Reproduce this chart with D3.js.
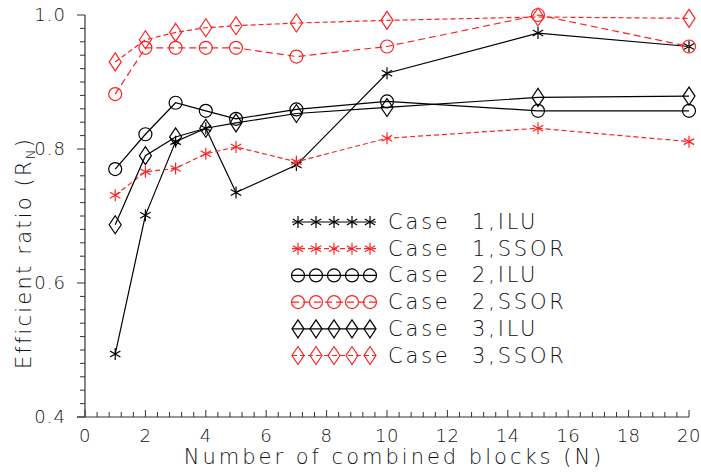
<!DOCTYPE html>
<html>
<head>
<meta charset="utf-8">
<script src="https://cdn.jsdelivr.net/npm/d3@7"></script>
<style>
  body { margin: 0; background: #fff; }
  text { font-family: "DejaVu Sans Light", "DejaVu Sans", sans-serif; font-weight: 200; fill: #111; }
</style>
</head>
<body>
<div id="chart"></div>
<script>
// number of combined blocks
var blocks = [1, 2, 3, 4, 5, 7, 10, 15, 20];

var case1ILU  = [0.494, 0.701, 0.811, 0.831, 0.735, 0.776, 0.913, 0.973, 0.953];
var case1SSOR = [0.731, 0.766, 0.771, 0.793, 0.803, 0.781, 0.816, 0.831, 0.811];
var case2ILU  = [0.770, 0.822, 0.869, 0.857, 0.845, 0.859, 0.871, 0.857, 0.857];
var case2SSOR = [0.882, 0.951, 0.951, 0.951, 0.951, 0.938, 0.953, 1.000, 0.953];
var case3ILU  = [0.687, 0.790, 0.818, 0.831, 0.839, 0.853, 0.862, 0.877, 0.879];
var case3SSOR = [0.930, 0.963, 0.974, 0.981, 0.984, 0.988, 0.992, 0.997, 0.995];

var seriesNames = ["Case  1,ILU", "Case  1,SSOR", "Case  2,ILU", "Case  2,SSOR", "Case  3,ILU", "Case  3,SSOR"];
var xTicks = [0, 2, 4, 6, 8, 10, 12, 14, 16, 18, 20];
var yTicks = [0.4, 0.6, 0.8, 1.0];

var series = [
  {name: seriesNames[0], values: case1ILU,  color: "#000", dash: null,  sym: "star"},
  {name: seriesNames[1], values: case1SSOR, color: "#f22", dash: "5,3", sym: "star"},
  {name: seriesNames[2], values: case2ILU,  color: "#000", dash: null,  sym: "circle"},
  {name: seriesNames[3], values: case2SSOR, color: "#f22", dash: "7,4", sym: "circle"},
  {name: seriesNames[4], values: case3ILU,  color: "#000", dash: null,  sym: "diamond"},
  {name: seriesNames[5], values: case3SSOR, color: "#f22", dash: "5,3", sym: "diamond"}
];

var width = 701, height = 474;
var svg = d3.select("#chart").append("svg")
    .attr("width", width)
    .attr("height", height);

var x = d3.scaleLinear().domain([0, 20]).range([85, 689]);
var y = d3.scaleLinear().domain([0.4, 1.0]).range([417, 15]);

// y axis
var yAxis = svg.append("g");
yAxis.append("line")
    .attr("x1", x(0)).attr("x2", x(0))
    .attr("y1", y(0.4)).attr("y2", y(1.0))
    .attr("stroke", "#333").attr("stroke-width", 1.2);
d3.range(0.4, 1.0001, 0.02).forEach(function(v, i) {
    var major = i % 10 == 0;
    yAxis.append("line")
        .attr("x1", x(0) - (major ? 8 : 5)).attr("x2", x(0))
        .attr("y1", y(v)).attr("y2", y(v))
        .attr("stroke", "#333").attr("stroke-width", 1);
});
yTicks.forEach(function(v) {
    yAxis.append("text")
        .attr("x", x(0) - 19).attr("y", y(v) + 6)
        .attr("text-anchor", "end")
        .attr("font-size", 18)
        .attr("letter-spacing", 1)
        .text(d3.format(".1f")(v));
});

// x axis
var xAxis = svg.append("g");
xAxis.append("line")
    .attr("x1", x(0) - 8).attr("x2", x(20))
    .attr("y1", y(0.4)).attr("y2", y(0.4))
    .attr("stroke", "#333").attr("stroke-width", 1.2);
d3.range(0, 20.001, 0.4).forEach(function(v, i) {
    var major = i % 5 == 0;
    xAxis.append("line")
        .attr("x1", x(v)).attr("x2", x(v))
        .attr("y1", y(0.4)).attr("y2", y(0.4) - (major ? 7 : 5))
        .attr("stroke", "#333").attr("stroke-width", 1);
});
xTicks.forEach(function(v) {
    xAxis.append("text")
        .attr("x", x(v)).attr("y", y(0.4) + 25)
        .attr("text-anchor", "middle")
        .attr("font-size", 18)
        .attr("letter-spacing", 0.5)
        .text(v);
});

svg.append("text")
    .attr("x", 394).attr("y", 464)
    .attr("text-anchor", "middle")
    .attr("font-size", 21)
    .attr("letter-spacing", 3)
    .text("Number of combined blocks (N)");

var ylab = svg.append("text")
    .attr("transform", "translate(31,253) rotate(-90)")
    .attr("text-anchor", "middle")
    .attr("font-size", 21)
    .attr("letter-spacing", 2.2);
ylab.append("tspan").text("Efficient ratio (R");
ylab.append("tspan").attr("font-size", 13).attr("dy", 4).text("N");
ylab.append("tspan").attr("dy", -4).text(")");

function drawSymbol(g, sym, cx, cy, color) {
    if (sym == "circle") {
        g.append("circle").attr("cx", cx).attr("cy", cy).attr("r", 6.5)
            .attr("fill", "none").attr("stroke", color).attr("stroke-width", 1.2);
    } else if (sym == "diamond") {
        g.append("path")
            .attr("d", "M" + cx + "," + (cy - 9) + "L" + (cx + 6) + "," + cy + "L" + cx + "," + (cy + 9) + "L" + (cx - 6) + "," + cy + "Z")
            .attr("fill", "none").attr("stroke", color).attr("stroke-width", 1.2);
    } else {
        var r = 6, a = r * 0.866, b = r * 0.5;
        g.append("path")
            .attr("d", "M" + cx + "," + (cy - r) + "L" + cx + "," + (cy + r) +
                "M" + (cx - a) + "," + (cy - b) + "L" + (cx + a) + "," + (cy + b) +
                "M" + (cx - a) + "," + (cy + b) + "L" + (cx + a) + "," + (cy - b))
            .attr("fill", "none").attr("stroke", color).attr("stroke-width", 1.2);
    }
}

var line = d3.line()
    .x(function(d) { return x(d[0]); })
    .y(function(d) { return y(d[1]); });

series.forEach(function(s) {
    var pts = blocks.map(function(b, i) { return [b, s.values[i]]; });
    var g = svg.append("g");
    g.append("path")
        .attr("d", line(pts))
        .attr("fill", "none")
        .attr("stroke", s.color)
        .attr("stroke-width", 1.2)
        .attr("stroke-dasharray", s.dash);
    pts.forEach(function(p) {
        drawSymbol(g, s.sym, x(p[0]), y(p[1]), s.color);
    });
});

// legend
var legend = svg.append("g");
series.forEach(function(s, i) {
    var ly = 222 + i * 26.7;
    legend.append("line")
        .attr("x1", 292).attr("x2", 376)
        .attr("y1", ly).attr("y2", ly)
        .attr("stroke", s.color).attr("stroke-width", 1.2)
        .attr("stroke-dasharray", s.dash);
    [298, 316, 334, 352, 370].forEach(function(mx) {
        drawSymbol(legend, s.sym, mx, ly, s.color);
    });
    var parts = s.name.split("  ");
    legend.append("text").attr("x", 388).attr("y", ly + 7)
        .attr("font-size", 21).attr("letter-spacing", 2.8).text(parts[0]);
    legend.append("text").attr("x", 472).attr("y", ly + 7)
        .attr("font-size", 21).attr("letter-spacing", 2.8).text(parts[1]);
});
</script>
</body>
</html>
